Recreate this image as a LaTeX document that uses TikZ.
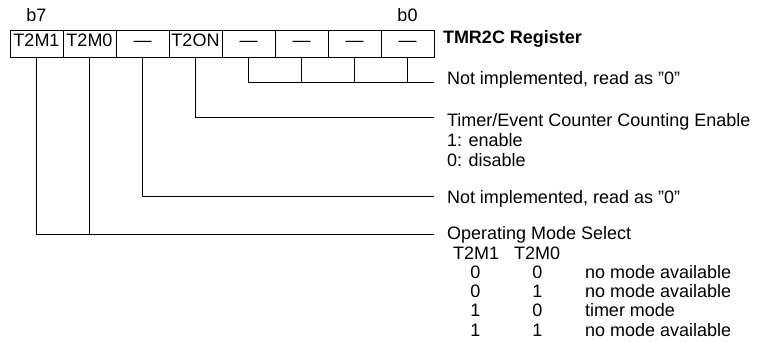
\documentclass[tikz,border=0pt]{standalone}
\usepackage{fontspec}
\setmainfont{Liberation Sans}[Ligatures=ResetAll]
\begin{document}
\begin{tikzpicture}[x=1pt,y=-1pt,
  every node/.style={inner sep=0pt, outer sep=0pt, font=\fontsize{18}{20}\selectfont, text=black},
  cell/.style={draw, line width=0.9pt, minimum width=53pt, minimum height=27.3pt, text height=12pt, text depth=5.3pt, anchor=center},
  lbl/.style={anchor=base west},
  dig/.style={anchor=base},
  wire/.style={line width=0.9pt}]
\useasboundingbox (0,0) rectangle (761,342);
% register cells
\node[cell] (c7) at (36.5,43.65) {T2M1};
\node[cell] (c6) at (89.5,43.65) {T2M0};
\node[cell] (c5) at (142.5,43.65) {\textemdash};
\node[cell] (c4) at (195.5,43.65) {T2ON};
\node[cell] (c3) at (248.5,43.65) {\textemdash};
\node[cell] (c2) at (301.5,43.65) {\textemdash};
\node[cell] (c1) at (354.5,43.65) {\textemdash};
\node[cell] (c0) at (407.5,43.65) {\textemdash};
\node[dig] (b7) at (36.5,21.7) {b7};
\node[dig] (b0) at (407.5,21.7) {b0};
\node[lbl, font=\fontsize{18}{20}\selectfont\bfseries] (reg) at (443,43.3) {TMR2C Register};
% end points
\coordinate (e30) at (434,82.7);
\coordinate (e4) at (434,117.3);
\coordinate (e5) at (434,196);
\coordinate (e76) at (434,234.3);
% connectors
\draw[wire] (c3.south) |- (e30);
\foreach \c in {c2,c1,c0} \draw[wire] (\c.south) -- (\c.south |- e30);
\draw[wire] (c4.south) |- (e4);
\draw[wire] (c5.south) |- (e5);
\draw[wire] (c7.south) |- (e76);
\draw[wire] (c6.south) -- (c6.south |- e76);
% labels
\node[lbl] (n30) at (447,85) {Not implemented, read as "0"};
\node[lbl] (t1) at (447,127) {Timer/Event Counter Counting Enable};
\node[lbl] (t2) at (447,147) {1: enable};
\node[lbl] (t3) at (447,167) {0: disable};
\node[lbl] (n5) at (447,203.3) {Not implemented, read as "0"};
\node[lbl] (om) at (447,240) {Operating Mode Select};
\node[lbl] (h1) at (453,259.2) {T2M1};
\node[lbl] (h2) at (514,259.2) {T2M0};
\node[dig] (r1a) at (475.5,278.4) {0};
\node[dig] (r1b) at (537.5,278.4) {0};
\node[lbl] (r1c) at (585,278.4) {no mode available};
\node[dig] (r2a) at (475.5,297.6) {0};
\node[dig] (r2b) at (537.5,297.6) {1};
\node[lbl] (r2c) at (585,297.6) {no mode available};
\node[dig] (r3a) at (475.5,316.8) {1};
\node[dig] (r3b) at (537.5,316.8) {0};
\node[lbl] (r3c) at (585,316.8) {timer mode};
\node[dig] (r4a) at (475.5,336) {1};
\node[dig] (r4b) at (537.5,336) {1};
\node[lbl] (r4c) at (585,336) {no mode available};
\end{tikzpicture}
\end{document}
